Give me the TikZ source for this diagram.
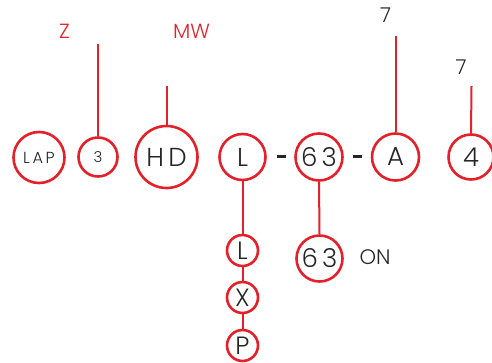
\documentclass[tikz,border=0pt]{standalone}
\usepackage{fontspec}
\setmainfont{Poppins Light}
\definecolor{cred}{HTML}{E4202A}
\definecolor{ctext}{HTML}{262626}
\begin{document}
\begin{tikzpicture}[x=1pt,y=-1pt,
  circ/.style={circle,draw=cred,line width=2.6pt,inner sep=0pt,text=ctext,fill=white},
  conn/.style={draw=cred,line width=2pt},
  redlbl/.style={text=cred,inner sep=0pt},
  blklbl/.style={text=ctext,inner sep=0pt},
  dashmark/.style={fill=ctext,inner sep=0pt,minimum width=9pt,minimum height=3pt}]
\useasboundingbox (0,0) rectangle (492,362);
% top row
\node[circ,minimum size=51pt,font=\fontsize{16}{16}\selectfont] (lap) at (39,157.5) {L\,A\,P};
\node[circ,minimum size=39pt,font=\fontsize{15}{15}\selectfont] (three) at (98,157) {3};
\node[circ,minimum size=62pt,font=\fontsize{26}{26}\selectfont] (hd) at (166.5,157) {H\,D};
\node[circ,minimum size=46pt,font=\fontsize{26}{26}\selectfont] (l) at (242.5,157) {L};
\node[circ,minimum size=47pt,font=\fontsize{26}{26}\selectfont] (s63) at (319,157) {6\,3};
\node[circ,minimum size=47pt,font=\fontsize{26}{26}\selectfont] (a) at (395.5,157) {A};
\node[circ,minimum size=45pt,font=\fontsize{26}{26}\selectfont] (four) at (471,157) {4};
\node[dashmark] (d1) at (281,156.5) {};
\node[dashmark] (d2) at (357.5,156.5) {};
% lower
\node[circ,minimum size=31pt,font=\fontsize{25}{25}\selectfont] (ls) at (242.5,250.5) {L};
\node[circ,minimum size=31pt,font=\fontsize{25}{25}\selectfont] (xs) at (242.5,297.5) {X};
\node[circ,minimum size=31pt,font=\fontsize{25}{25}\selectfont] (ps) at (242.5,345.5) {P};
\node[circ,minimum size=46pt,font=\fontsize{26}{26}\selectfont] (b63) at (319.5,258.5) {6\,3};
\node[blklbl,font=\fontsize{21}{21}\selectfont] (on) at (375,257) {ON};
% labels
\node[redlbl,font=\fontsize{20.5}{20.5}\selectfont] (z) at (64.5,31.5) {Z};
\node[redlbl,font=\fontsize{20.5}{20.5}\selectfont] (mw) at (191.5,31.5) {MW};
\node[blklbl,font=\fontsize{20.5}{20.5}\selectfont] (seven1) at (385.5,15) {7};
\node[blklbl,font=\fontsize{20.5}{20.5}\selectfont] (seven2) at (461,67) {7};
\coordinate (t3) at (98,44);
\coordinate (thd) at (166.5,86);
\coordinate (ta) at (395.5,36);
\coordinate (t4) at (471.5,86);
% connectors
\draw[conn] (t3) -- (three.north);
\draw[conn] (thd) -- (hd.north);
\draw[conn] (ta) -- (a.north);
\draw[conn] (t4) -- (four.north);
\draw[conn] (l.south) -- (ls.north);
\draw[conn] (ls.south) -- (xs.north);
\draw[conn] (xs.south) -- (ps.north);
\draw[conn] (s63.south) -- (b63.north);
\end{tikzpicture}
\end{document}
